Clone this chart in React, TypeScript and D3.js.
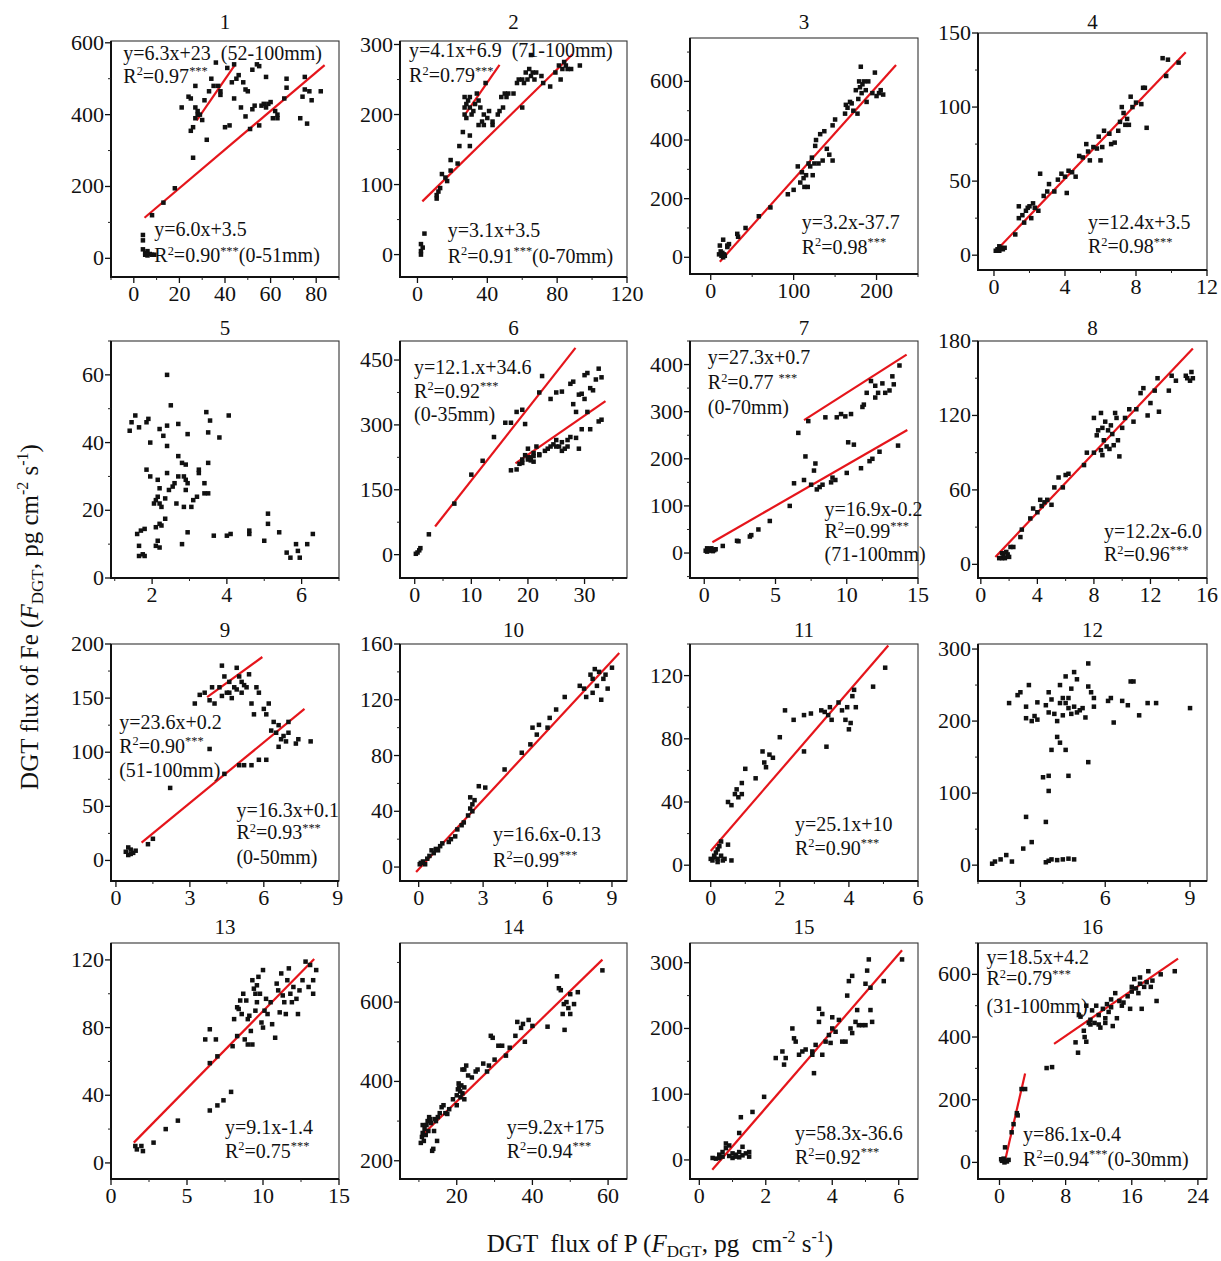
import React from 'react';
import * as d3 from 'd3';

type Pt = [number, number];
type Fit = [number, number, number, number];

// ---- data (Fe flux vs P flux per core) ----
const panelTitles = ['1', '2', '3', '4', '5', '6', '7', '8', '9', '10', '11', '12', '13', '14', '15', '16'];

const p1Points: Pt[] = [
  [4, 65], [4, 50], [4, 25], [5, 15], [6, 20], [7, 12], [8, 10], [6, 8], [5, 10], [9, 10],
  [8, 120], [13, 155], [18, 195],
  [21, 420], [24, 450], [25, 445], [25, 355], [26, 365], [26, 280], [27, 480], [27, 390], [27, 420], [28, 410],
  [28, 400], [29, 400], [30, 385], [31, 440], [32, 330], [33, 465], [34, 500], [35, 480], [36, 545], [37, 480],
  [38, 465], [38, 455], [40, 365], [41, 530], [42, 370], [43, 490], [44, 445], [44, 540], [45, 500], [46, 510],
  [47, 420], [48, 490], [49, 395], [49, 470], [50, 465], [51, 360], [52, 525], [52, 415], [53, 425], [54, 540],
  [55, 535], [55, 370], [56, 425], [57, 430], [58, 505], [58, 420], [59, 430], [60, 435], [61, 390], [62, 410],
  [63, 390], [67, 500], [67, 475], [73, 390], [74, 450], [75, 470], [75, 505], [76, 375], [77, 465], [78, 440],
  [82, 465], [66, 445], [63, 400],
];
const p1Fits: Fit[] = [[4.7, 113, 83.7, 538], [27.6, 384, 44.3, 538]];

const p2Points: Pt[] = [
  [2, 15], [2, 5], [2, 0], [3, 10], [4, 30],
  [11, 80], [11, 85], [12, 90], [13, 95], [14, 115], [16, 110], [17, 105], [19, 135], [19, 120], [23, 130],
  [24, 155], [26, 175], [27, 225], [27, 210], [27, 200], [28, 215], [28, 195], [29, 220], [30, 225], [30, 210],
  [30, 170], [30, 155], [31, 200], [32, 205], [33, 215], [34, 230], [35, 220], [35, 185], [36, 210], [37, 190],
  [38, 200], [38, 185], [39, 245], [40, 195], [41, 205], [43, 190], [43, 185], [46, 200], [47, 205], [48, 225],
  [49, 210], [50, 230], [51, 225], [52, 230], [55, 230], [57, 245], [58, 250], [60, 250], [60, 210], [61, 245],
  [62, 260], [63, 250], [64, 265], [65, 255], [65, 285], [66, 260], [67, 250], [68, 260], [71, 255], [72, 245],
  [76, 240], [79, 260], [81, 270], [82, 250], [83, 265], [84, 275], [85, 270], [86, 265], [88, 265], [93, 270],
];
const p2Fits: Fit[] = [[2.8, 76, 88.8, 286], [27.8, 202, 47, 271]];

const p3Points: Pt[] = [
  [10, 10], [11, 40], [12, 20], [13, 5], [14, 15], [15, 60], [15, 0], [16, 10], [17, 5], [20, 40], [20, 35],
  [22, 45], [32, 80], [33, 70], [42, 100], [58, 140], [72, 170], [93, 215], [100, 230], [105, 310], [108, 255],
  [110, 290], [112, 270], [113, 240], [115, 280], [117, 240], [118, 320], [120, 310], [122, 340], [123, 280],
  [125, 320], [126, 380], [127, 400], [130, 320], [132, 420], [135, 330], [137, 430], [140, 370], [143, 350],
  [147, 330], [147, 450], [150, 470], [162, 490], [163, 520], [165, 510], [168, 530], [170, 525], [172, 500],
  [175, 570], [177, 490], [178, 540], [179, 600], [180, 580], [181, 650], [182, 560], [183, 590], [185, 600],
  [187, 570], [188, 530], [190, 600], [195, 560], [198, 630], [200, 550], [203, 560], [205, 570], [208, 555],
];
const p3Fits: Fit[] = [[11, -15, 223.5, 656]];

const p4Points: Pt[] = [
  [0.1, 3], [0.2, 4], [0.3, 3], [0.4, 5], [0.5, 4], [0.6, 5], [0.3, 6], [1.2, 14], [1.4, 25], [1.4, 33],
  [1.6, 27], [1.7, 22], [1.8, 30], [1.9, 32], [2.0, 33], [2.1, 25], [2.2, 35], [2.3, 32], [2.5, 30], [2.6, 55],
  [2.8, 40], [3.0, 43], [3.1, 48], [3.4, 43], [3.6, 51], [3.8, 55], [4.0, 53], [4.1, 42], [4.2, 57], [4.4, 56],
  [4.6, 53], [4.8, 67], [5.0, 66], [5.2, 75], [5.3, 70], [5.4, 64], [5.6, 73], [5.8, 72], [5.9, 80], [6.0, 64],
  [6.1, 73], [6.2, 84], [6.5, 82], [6.6, 75], [6.8, 76], [7.0, 84], [7.1, 90], [7.2, 100], [7.3, 96], [7.4, 88],
  [7.5, 92], [7.6, 88], [7.7, 107], [7.8, 100], [8.0, 103], [8.3, 102], [8.4, 113], [8.5, 113], [8.6, 86],
  [9.5, 133], [9.7, 121], [9.8, 132], [10.4, 130],
];
const p4Fits: Fit[] = [[0.06, 2.3, 10.8, 137]];

const p5Points: Pt[] = [
  [1.4, 43.5], [1.45, 46], [1.55, 48], [1.65, 44.5], [1.85, 46], [1.9, 47], [1.95, 40], [2.4, 60], [2.5, 51],
  [2.4, 45], [2.3, 42], [2.2, 44], [2.7, 45.5], [2.95, 42.5], [2.4, 39], [3.45, 49], [3.55, 46.5], [4.05, 48],
  [3.8, 41.5], [3.5, 43], [3.5, 34], [2.7, 36], [2.8, 34], [2.9, 33.5], [1.85, 32], [1.95, 30], [2.15, 29],
  [2.4, 31], [2.6, 28], [2.7, 30], [2.85, 30], [2.9, 29], [2.95, 28], [3.25, 32], [3.25, 31], [3.4, 28],
  [2.2, 26.5], [2.45, 26], [2.55, 27], [2.9, 26], [2.05, 22], [2.1, 23], [2.15, 24], [2.2, 22], [2.25, 21],
  [2.35, 23.5], [2.65, 22], [2.85, 21], [3.05, 21], [3.1, 23], [3.2, 24], [3.4, 25], [3.5, 25], [2.2, 16],
  [2.25, 15.5], [2.35, 17.5], [2.1, 15], [1.6, 13], [1.7, 14], [1.8, 14.5], [2.95, 13.5], [2.15, 11], [2.1, 9.5],
  [2.2, 9], [2.8, 10], [1.65, 9.5], [1.65, 6.5], [1.75, 7], [1.8, 6.5], [3.65, 12.5], [4.0, 12.5], [4.1, 13],
  [4.6, 13], [4.6, 14], [5.0, 11], [5.1, 19], [5.1, 16], [5.4, 13.5], [5.6, 7.5], [5.7, 6], [5.85, 10], [5.9, 8],
  [5.95, 6], [6.15, 10], [6.3, 13],
];
const p5Fits: Fit[] = [];

const p6Points: Pt[] = [
  [0.2, 2], [0.5, 5], [0.8, 10], [1, 15], [2.5, 47], [7, 118], [10, 185], [12, 217], [14, 272], [16, 305],
  [17, 305], [18, 330], [19, 335], [19.5, 302], [17, 195], [18, 197], [18.5, 210], [19, 220], [19.5, 230],
  [20, 245], [20, 220], [20.5, 225], [21, 235], [21, 215], [21.5, 250], [22, 230], [22, 375], [22.5, 413],
  [23.5, 245], [24, 360], [24.5, 255], [25, 265], [25, 375], [25.5, 250], [26, 260], [26, 377], [26.5, 245],
  [27, 265], [27.5, 395], [27.5, 272], [28, 400], [28, 348], [28.5, 270], [28.5, 330], [29, 245], [29, 370],
  [29.5, 290], [29.5, 372], [30, 360], [30, 415], [30.5, 330], [30.5, 420], [31, 290], [31, 385], [31.5, 380],
  [32, 405], [32.5, 308], [32.5, 430], [33, 410], [33, 312], [23, 240], [24, 250], [25, 250], [26, 240],
  [27, 250], [20, 225], [21, 228], [22, 232], [19, 212], [20.5, 218],
];
const p6Fits: Fit[] = [[3.6, 65, 28.4, 478], [17.8, 211, 33.7, 355]];

const p7Points: Pt[] = [
  [0.1, 5], [0.2, 3], [0.3, 8], [0.4, 5], [0.5, 7], [0.6, 4], [0.7, 6], [0.8, 8], [0.2, 10], [0.5, 10],
  [1.3, 15], [2.3, 26], [2.4, 25], [3.2, 35], [3.3, 38], [3.8, 50], [4.6, 68], [6.0, 100], [6.3, 148],
  [6.6, 255], [7.0, 155], [7.1, 205], [7.3, 280], [7.5, 145], [7.7, 175], [7.8, 190], [7.9, 135], [8.1, 140],
  [8.3, 145], [8.5, 288], [8.9, 150], [9.0, 160], [9.2, 155], [9.3, 288], [9.6, 295], [9.9, 290], [10.0, 170],
  [10.3, 295], [10.1, 235], [10.5, 230], [11.0, 180], [11.1, 310], [11.2, 315], [11.4, 340], [11.6, 195],
  [11.7, 365], [11.8, 200], [12.0, 355], [12.0, 330], [12.2, 340], [12.3, 215], [12.5, 360], [12.7, 340],
  [13.0, 345], [13.2, 375], [13.3, 358], [13.6, 228], [13.7, 398],
];
const p7Fits: Fit[] = [[7.0, 282, 14.2, 421], [0.57, 23, 14.25, 261]];

const p8Points: Pt[] = [
  [1.3, 5], [1.5, 5], [1.6, 7], [1.7, 5], [1.8, 10], [1.9, 8], [2.0, 6], [2.1, 14], [2.3, 14], [1.5, 9],
  [2.8, 22], [2.9, 28], [3.5, 37], [3.7, 45], [4.0, 42], [4.2, 52], [4.3, 47], [4.5, 50], [4.7, 52], [5.0, 48],
  [5.2, 62], [5.5, 70], [5.8, 62], [6.0, 72], [6.2, 73], [7.3, 80], [7.5, 90], [8.0, 118], [8.0, 90], [8.3, 108],
  [8.5, 92], [8.5, 122], [8.6, 110], [8.7, 100], [8.8, 115], [8.9, 95], [9.0, 108], [9.2, 112], [9.3, 105],
  [9.5, 122], [9.6, 118], [9.7, 100], [9.8, 87], [10.0, 110], [10.2, 118], [10.5, 125], [10.8, 115], [11.0, 125],
  [11.3, 138], [11.5, 142], [11.8, 120], [12.0, 130], [12.3, 140], [12.5, 150], [12.6, 123], [13.3, 140],
  [13.5, 152], [13.8, 148], [14.5, 152], [14.6, 150], [14.8, 148], [14.9, 155], [15.0, 150], [8.2, 104],
  [8.6, 88], [9.1, 93], [9.4, 96],
];
const p8Fits: Fit[] = [[1.03, 6, 15.0, 174]];

const p9Points: Pt[] = [
  [0.4, 8], [0.5, 12], [0.5, 5], [0.6, 10], [0.7, 7], [0.8, 9], [0.6, 6], [1.3, 15], [1.5, 20], [2.2, 67],
  [3.2, 145], [3.4, 153], [3.6, 155], [3.8, 103], [3.8, 148], [3.9, 160], [4.0, 145], [4.2, 160], [4.3, 152],
  [4.3, 180], [4.4, 170], [4.5, 155], [4.6, 165], [4.7, 150], [4.8, 160], [4.9, 178], [5.0, 170], [5.1, 165],
  [5.1, 155], [5.3, 160], [5.4, 172], [5.5, 145], [5.6, 135], [5.7, 160], [5.8, 155], [6.0, 140], [6.1, 135],
  [6.2, 145], [6.3, 120], [6.4, 128], [6.5, 118], [6.6, 125], [6.6, 105], [6.7, 112], [6.8, 115], [6.9, 110],
  [7.0, 118], [7.0, 128], [7.3, 108], [7.4, 112], [7.9, 110], [5.0, 88], [5.2, 88], [5.5, 88], [5.8, 93],
  [6.1, 93], [4.4, 80], [4.6, 155], [4.9, 158], [5.2, 162],
];
const p9Fits: Fit[] = [[3.7, 151, 5.94, 188], [1.04, 16.5, 7.65, 140]];

const p10Points: Pt[] = [
  [0.05, 2], [0.1, 3], [0.2, 4], [0.3, 2], [0.4, 6], [0.5, 8], [0.6, 12], [0.7, 10], [0.8, 13], [0.9, 12],
  [1.0, 15], [1.1, 17], [1.4, 18], [1.5, 20], [1.7, 22], [1.8, 27], [2.0, 30], [2.1, 32], [2.3, 37], [2.4, 42],
  [2.4, 50], [2.5, 45], [2.5, 40], [2.6, 48], [2.8, 58], [3.1, 57], [4.0, 70], [4.8, 82], [5.2, 88], [5.3, 100],
  [5.5, 95], [5.6, 102], [6.0, 100], [6.1, 107], [6.4, 113], [6.8, 122], [7.5, 130], [7.7, 128], [7.8, 122],
  [8.0, 138], [8.1, 135], [8.1, 125], [8.2, 142], [8.3, 130], [8.4, 140], [8.5, 120], [8.6, 135], [8.7, 138],
  [8.8, 128], [9.0, 143],
];
const p10Fits: Fit[] = [[-0.12, -3.6, 9.34, 153.6]];

const p11Points: Pt[] = [
  [0.0, 4], [0.05, 3], [0.1, 5], [0.15, 8], [0.2, 4], [0.2, 10], [0.25, 12], [0.3, 6], [0.3, 15], [0.35, 3],
  [0.4, 4], [0.5, 13], [0.6, 3], [0.1, 6], [0.2, 2],
  [0.5, 40], [0.6, 38], [0.7, 45], [0.75, 48], [0.8, 43], [0.9, 52], [0.9, 45], [1.0, 61], [1.3, 55], [1.5, 72],
  [1.55, 65], [1.6, 62], [1.7, 70], [1.8, 68], [2.0, 81], [2.15, 98], [2.4, 92], [2.7, 95], [2.7, 72], [2.9, 96],
  [3.2, 98], [3.3, 97], [3.35, 75], [3.4, 95], [3.45, 100], [3.5, 92], [3.7, 103], [3.8, 98], [3.9, 92],
  [3.95, 100], [4.0, 86], [4.05, 90], [4.1, 107], [4.15, 111], [4.2, 100], [4.7, 113], [5.05, 125],
];
const p11Fits: Fit[] = [[0, 9, 5.14, 139]];

const p12Points: Pt[] = [
  [2.0, 2], [2.1, 5], [2.3, 8], [2.5, 14], [2.7, 5], [3.1, 23], [3.2, 67], [3.4, 32], [3.9, 4], [4.0, 6],
  [4.1, 8], [4.3, 7], [4.5, 8], [4.7, 9], [4.9, 8], [3.9, 60], [3.8, 122], [4.0, 124], [4.0, 103], [4.1, 160],
  [4.3, 178], [4.4, 170], [4.6, 160], [4.7, 124], [5.4, 143],
  [2.6, 225], [2.9, 236], [3.0, 240], [3.2, 220], [3.2, 204], [3.3, 250], [3.4, 200], [3.5, 207], [3.6, 226],
  [3.6, 202], [3.9, 222], [4.0, 212], [4.0, 240], [4.1, 230], [4.2, 210], [4.3, 200], [4.4, 225], [4.4, 250],
  [4.5, 232], [4.5, 208], [4.6, 262], [4.6, 225], [4.7, 232], [4.7, 218], [4.8, 245], [4.8, 210], [4.9, 268],
  [4.9, 220], [5.0, 212], [5.0, 258], [5.1, 215], [5.2, 218], [5.3, 205], [5.4, 280], [5.4, 248], [5.5, 240],
  [5.6, 232], [5.6, 220], [6.1, 228], [6.2, 232], [6.3, 198], [6.6, 228], [6.8, 222], [6.9, 255], [7.0, 255],
  [7.2, 208], [7.5, 225], [7.8, 225], [9.0, 218],
];
const p12Fits: Fit[] = [];

const p13Points: Pt[] = [
  [1.6, 10], [1.7, 8], [2.0, 10], [2.1, 7], [2.8, 12], [3.6, 20], [4.4, 25], [6.2, 73], [6.5, 79], [6.5, 59],
  [6.5, 31], [6.9, 73], [7.0, 63], [7.0, 34], [7.4, 37], [7.9, 42], [8.0, 69], [8.1, 85], [8.3, 75], [8.3, 92],
  [8.5, 96], [8.6, 88], [8.7, 100], [8.8, 73], [8.9, 96], [9.0, 70], [9.1, 87], [9.2, 78], [9.3, 108], [9.3, 70],
  [9.4, 103], [9.5, 100], [9.6, 105], [9.6, 95], [9.7, 110], [9.8, 100], [9.9, 83], [10.0, 114], [10.0, 80],
  [10.1, 90], [10.3, 88], [10.5, 95], [10.6, 82], [10.8, 74], [10.9, 106], [11.0, 102], [11.1, 89], [11.2, 112],
  [11.3, 99], [11.4, 95], [11.5, 88], [11.6, 108], [11.7, 115], [11.8, 100], [12.0, 104], [12.2, 97], [12.3, 88],
  [12.4, 102], [12.6, 108], [12.8, 119], [13.0, 104], [13.1, 117], [13.3, 108], [13.3, 100], [13.5, 114],
  [9.0, 85], [9.5, 90], [10.2, 97], [11.9, 95], [8.4, 91],
];
const p13Fits: Fit[] = [[1.5, 12, 13.37, 120.5]];

const p14Points: Pt[] = [
  [10.5, 245], [10.8, 260], [11, 290], [11, 270], [11.3, 250], [11.5, 280], [11.8, 265], [12, 290], [12.3, 300],
  [12.5, 275], [12.7, 310], [13, 305], [13.2, 295], [13.5, 225], [13.8, 230], [14, 275], [14.2, 305], [14.5, 300],
  [14.8, 250], [15, 310], [15.5, 320], [16, 335], [16.5, 340], [17, 320], [17.5, 318], [18, 330], [19, 355],
  [20, 340], [20, 365], [20.3, 380], [20.6, 385], [20.9, 375], [21.2, 390], [21.5, 370], [21.5, 430], [22, 355],
  [22, 430], [22.5, 440], [23, 415], [24, 410], [25, 425], [25.5, 430], [27, 445], [28, 425], [28.5, 440],
  [29, 515], [29.5, 510], [30, 455], [31, 490], [32, 490], [33, 465], [34, 485], [35.5, 515], [36, 550], [37, 535],
  [37.5, 545], [38, 500], [39, 555], [40, 540], [44, 538], [46.5, 665], [47, 635], [47.5, 630], [48, 570],
  [48.3, 595], [48.5, 530], [49, 600], [49.5, 585], [50, 620], [50, 570], [51, 595], [52, 625], [58.5, 680],
  [21, 360], [22, 385], [20.5, 395],
];
const p14Fits: Fit[] = [[10.7, 263, 58.5, 707]];

const p15Points: Pt[] = [
  [0.4, 3], [0.5, 2], [0.6, 8], [0.7, 5], [0.7, 12], [0.8, 18], [0.8, 25], [0.9, 22], [0.9, 6], [1.0, 10],
  [1.0, 3], [1.1, 8], [1.2, 4], [1.2, 12], [1.3, 7], [1.3, 20], [1.4, 10], [1.5, 5], [1.5, 12], [1.1, 5], [0.6, 3],
  [1.2, 41], [1.25, 65], [1.6, 73], [1.95, 96], [2.3, 155], [2.5, 165], [2.55, 145], [2.6, 155], [2.8, 200],
  [2.85, 185], [2.9, 180], [3.0, 160], [3.1, 165], [3.2, 168], [3.4, 160], [3.4, 165], [3.45, 132], [3.5, 175],
  [3.6, 210], [3.6, 230], [3.7, 222], [3.7, 160], [3.8, 180], [3.9, 190], [3.95, 178], [4.0, 200], [4.0, 217],
  [4.1, 195], [4.2, 213], [4.3, 180], [4.4, 180], [4.45, 250], [4.5, 272], [4.55, 200], [4.6, 280], [4.6, 193],
  [4.7, 210], [4.75, 228], [4.8, 205], [4.9, 205], [5.0, 268], [5.0, 205], [5.05, 288], [5.1, 305], [5.15, 228],
  [5.15, 262], [5.2, 210], [5.55, 272], [6.1, 305],
];
const p15Fits: Fit[] = [[0.39, -15, 6.1, 319]];

const p16Points: Pt[] = [
  [0.2, 10], [0.3, 5], [0.5, 12], [0.6, 0], [0.8, 5], [0.9, 3], [1.1, 8], [0.67, 48], [1.47, 96], [1.7, 122],
  [2.1, 157], [2.2, 150], [2.67, 234], [3.1, 234], [5.7, 301], [6.36, 304],
  [9.2, 383], [9.5, 350], [9.6, 470], [9.8, 465], [10.2, 420], [10.3, 400], [10.5, 385], [10.5, 500], [10.8, 445],
  [11, 455], [11.2, 485], [11.5, 445], [11.7, 500], [12, 440], [12.2, 430], [12.5, 490], [12.8, 445], [13, 505],
  [13.2, 480], [13.5, 520], [13.7, 435], [14, 540], [14.2, 460], [14.5, 515], [15, 510], [15.5, 530], [15.8, 490],
  [16, 545], [16.3, 585], [16.5, 555], [16.8, 540], [17, 590], [17.2, 490], [17.5, 560], [17.8, 575], [18, 610],
  [18.3, 560], [18.5, 580], [19, 515], [19.5, 600], [21.2, 610], [12, 470], [13.5, 495], [14.8, 500], [16, 560],
  [17, 570], [11, 440], [12.8, 460],
];
const p16Fits: Fit[] = [[0.67, 5, 3.1, 284], [6.6, 378, 21.6, 650]];

// tick values
const p1XTicks = [0, 20, 40, 60, 80];
const p1YTicks = [0, 200, 400, 600];
const p2XTicks = [0, 40, 80, 120];
const p2YTicks = [0, 100, 200, 300];
const p3XTicks = [0, 100, 200];
const p3YTicks = [0, 200, 400, 600];
const p4XTicks = [0, 4, 8, 12];
const p4YTicks = [0, 50, 100, 150];
const p5XTicks = [2, 4, 6];
const p5YTicks = [0, 20, 40, 60];
const p6XTicks = [0, 10, 20, 30];
const p6YTicks = [0, 150, 300, 450];
const p7XTicks = [0, 5, 10, 15];
const p7YTicks = [0, 100, 200, 300, 400];
const p8XTicks = [0, 4, 8, 12, 16];
const p8YTicks = [0, 60, 120, 180];
const p9XTicks = [0, 3, 6, 9];
const p9YTicks = [0, 50, 100, 150, 200];
const p10XTicks = [0, 3, 6, 9];
const p10YTicks = [0, 40, 80, 120, 160];
const p11XTicks = [0, 2, 4, 6];
const p11YTicks = [0, 40, 80, 120];
const p12XTicks = [3, 6, 9];
const p12YTicks = [0, 100, 200, 300];
const p13XTicks = [0, 5, 10, 15];
const p13YTicks = [0, 40, 80, 120];
const p14XTicks = [20, 40, 60];
const p14YTicks = [200, 400, 600];
const p15XTicks = [0, 2, 4, 6];
const p15YTicks = [0, 100, 200, 300];
const p16XTicks = [0, 8, 16, 24];
const p16YTicks = [0, 200, 400, 600];

// regression annotations ({..} = superscript)
const p1Labels = ['y=6.3x+23  (52-100mm)', 'R{2}=0.97{***}', 'y=6.0x+3.5', 'R{2}=0.90{***}(0-51mm)'];
const p2Labels = ['y=4.1x+6.9  (71-100mm)', 'R{2}=0.79{***}', 'y=3.1x+3.5', 'R{2}=0.91{***}(0-70mm)'];
const p3Labels = ['y=3.2x-37.7', 'R{2}=0.98{***}'];
const p4Labels = ['y=12.4x+3.5', 'R{2}=0.98{***}'];
const p5Labels: string[] = [];
const p6Labels = ['y=12.1.x+34.6', 'R{2}=0.92{***}', '(0-35mm)'];
const p7Labels = ['y=27.3x+0.7', 'R{2}=0.77 {***}', '(0-70mm)', 'y=16.9x-0.2', 'R{2}=0.99{***}', '(71-100mm)'];
const p8Labels = ['y=12.2x-6.0', 'R{2}=0.96{***}'];
const p9Labels = ['y=23.6x+0.2', 'R{2}=0.90{***}', '(51-100mm)', 'y=16.3x+0.1', 'R{2}=0.93{***}', '(0-50mm)'];
const p10Labels = ['y=16.6x-0.13', 'R{2}=0.99{***}'];
const p11Labels = ['y=25.1x+10', 'R{2}=0.90{***}'];
const p12Labels: string[] = [];
const p13Labels = ['y=9.1x-1.4', 'R{2}=0.75{***}'];
const p14Labels = ['y=9.2x+175', 'R{2}=0.94{***}'];
const p15Labels = ['y=58.3x-36.6', 'R{2}=0.92{***}'];
const p16Labels = ['y=18.5x+4.2', 'R{2}=0.79{***}', '(31-100mm)', 'y=86.1x-0.4', 'R{2}=0.94{***}(0-30mm)'];

// ---- layout ----
const W = 1221;
const H = 1261;
const colX: [number, number][] = [[111, 339], [400, 627], [690, 918], [978, 1207]];
const rowY: [number, number][] = [[41, 277], [341, 578], [644, 881], [943, 1179]];
const rowTitleY = [29, 335, 637, 934];
// the top-right panels of the scan sit a little higher
const frameOverride: Record<number, [number, number]> = { 2: [38, 274], 3: [33, 270] };
const FONT = '"Liberation Serif", "Times New Roman", serif';
const RED = '#e5151b';

const panels = [
  { pts: p1Points, fits: p1Fits, xd: [-10, 90], yd: [-52, 605], xt: p1XTicks, yt: p1YTicks, labels: p1Labels,
    pos: [[0.054, 0.05], [0.054, 0.148], [0.19, 0.796], [0.19, 0.908]] },
  { pts: p2Points, fits: p2Fits, xd: [-10, 120], yd: [-32, 305], xt: p2XTicks, yt: p2YTicks, labels: p2Labels,
    pos: [[0.04, 0.04], [0.04, 0.146], [0.21, 0.8], [0.21, 0.91]] },
  { pts: p3Points, fits: p3Fits, xd: [-25, 250], yd: [-57, 748], xt: p3XTicks, yt: p3YTicks, labels: p3Labels,
    pos: [[0.49, 0.78], [0.49, 0.885]] },
  { pts: p4Points, fits: p4Fits, xd: [-0.9, 12], yd: [-10, 150], xt: p4XTicks, yt: p4YTicks, labels: p4Labels,
    pos: [[0.48, 0.797], [0.48, 0.9]] },
  { pts: p5Points, fits: p5Fits, xd: [0.9, 7], yd: [0, 70], xt: p5XTicks, yt: p5YTicks, labels: p5Labels, pos: [] },
  { pts: p6Points, fits: p6Fits, xd: [-2.6, 37.5], yd: [-54, 494], xt: p6XTicks, yt: p6YTicks, labels: p6Labels,
    pos: [[0.062, 0.108], [0.062, 0.21], [0.062, 0.31]] },
  { pts: p7Points, fits: p7Fits, xd: [-1, 15], yd: [-53, 450], xt: p7XTicks, yt: p7YTicks, labels: p7Labels,
    pos: [[0.078, 0.068], [0.078, 0.174], [0.078, 0.28], [0.59, 0.71], [0.59, 0.8], [0.59, 0.9]] },
  { pts: p8Points, fits: p8Fits, xd: [-0.2, 16], yd: [-11, 180], xt: p8XTicks, yt: p8YTicks, labels: p8Labels,
    pos: [[0.55, 0.8], [0.55, 0.9]] },
  { pts: p9Points, fits: p9Fits, xd: [-0.2, 9.05], yd: [-19, 200], xt: p9XTicks, yt: p9YTicks, labels: p9Labels,
    pos: [[0.036, 0.33], [0.036, 0.43], [0.036, 0.53], [0.55, 0.7], [0.55, 0.795], [0.55, 0.9]] },
  { pts: p10Points, fits: p10Fits, xd: [-0.87, 9.7], yd: [-10, 160], xt: p10XTicks, yt: p10YTicks, labels: p10Labels,
    pos: [[0.41, 0.8], [0.41, 0.91]] },
  { pts: p11Points, fits: p11Fits, xd: [-0.6, 6], yd: [-10, 140], xt: p11XTicks, yt: p11YTicks, labels: p11Labels,
    pos: [[0.46, 0.76], [0.46, 0.86]] },
  { pts: p12Points, fits: p12Fits, xd: [1.5, 9.6], yd: [-22, 307], xt: p12XTicks, yt: p12YTicks, labels: p12Labels, pos: [] },
  { pts: p13Points, fits: p13Fits, xd: [0, 15], yd: [-9.5, 130], xt: p13XTicks, yt: p13YTicks, labels: p13Labels,
    pos: [[0.5, 0.78], [0.5, 0.88]] },
  { pts: p14Points, fits: p14Fits, xd: [5, 65], yd: [154, 749], xt: p14XTicks, yt: p14YTicks, labels: p14Labels,
    pos: [[0.47, 0.78], [0.47, 0.88]] },
  { pts: p15Points, fits: p15Fits, xd: [-0.28, 6.58], yd: [-29, 330], xt: p15XTicks, yt: p15YTicks, labels: p15Labels,
    pos: [[0.46, 0.805], [0.46, 0.905]] },
  { pts: p16Points, fits: p16Fits, xd: [-2.6, 25.1], yd: [-53, 700], xt: p16XTicks, yt: p16YTicks, labels: p16Labels,
    pos: [[0.037, 0.06], [0.037, 0.15], [0.037, 0.265], [0.197, 0.81], [0.197, 0.915]] },
];

function minorTicks(ticks: number[], dom: number[]) {
  const s = ticks[1] - ticks[0];
  let v = ticks[0] - s / 2;
  while (v - s >= dom[0] - 1e-9) v -= s;
  const out: number[] = [];
  for (; v <= dom[1] + 1e-9; v += s) if (v >= dom[0] - 1e-9) out.push(v);
  return out;
}

function RichText({ x, y, s, size }: { x: number; y: number; s: string; size: number }) {
  const segs: { t: string; sup: boolean }[] = [];
  s.split(/(\{[^}]*\})/).forEach(p => {
    if (!p) return;
    if (p.startsWith('{')) segs.push({ t: p.slice(1, -1), sup: true });
    else segs.push({ t: p, sup: false });
  });
  const up = size * 0.38;
  let shifted = false;
  return (
    <text x={x} y={y} fontSize={size} fontFamily={FONT} fill="#111" style={{ whiteSpace: 'pre' }}>
      {segs.map((g, i) => {
        let dy = 0;
        if (g.sup && !shifted) { dy = -up; shifted = true; }
        else if (!g.sup && shifted) { dy = up; shifted = false; }
        return (
          <tspan key={i} dy={dy} fontSize={g.sup ? size * 0.62 : size}>{g.t}</tspan>
        );
      })}
    </text>
  );
}

function Panel({ cfg, i, title }: { cfg: any; i: number; title: string }) {
  const [x0, x1] = colX[i % 4];
  const row = Math.floor(i / 4);
  const [y0, y1] = frameOverride[i] || rowY[row];
  const x = d3.scaleLinear().domain(cfg.xd).range([x0, x1]);
  const y = d3.scaleLinear().domain(cfg.yd).range([y1, y0]);
  const xMinor = minorTicks(cfg.xt, cfg.xd);
  const yMinor = minorTicks(cfg.yt, cfg.yd);
  const w = x1 - x0;
  const h = y1 - y0;
  return (
    <g>
      <text x={(x0 + x1) / 2} y={rowTitleY[row]} textAnchor="middle" fontSize={21} fontFamily={FONT} fill="#111">{title}</text>
      <rect x={x0} y={y0} width={w} height={h} fill="none" stroke="#333" strokeWidth={1.1} />
      {cfg.fits.map((f: Fit, k: number) => (
        <line key={'f' + k} x1={x(f[0])} y1={y(f[1])} x2={x(f[2])} y2={y(f[3])} stroke={RED} strokeWidth={2.2} />
      ))}
      {cfg.pts.map((p: Pt, k: number) => (
        <rect key={'p' + k} x={x(p[0]) - 2.25} y={y(p[1]) - 2.25} width={4.5} height={4.5} fill="#111" />
      ))}
      <line x1={x0} y1={y0} x2={x0} y2={y1 + 1} stroke="#111" strokeWidth={2} />
      <line x1={x0 - 1} y1={y1} x2={x1} y2={y1} stroke="#111" strokeWidth={2} />
      {yMinor.map((v, k) => <line key={'ym' + k} x1={x0 - 3} x2={x0} y1={y(v)} y2={y(v)} stroke="#222" strokeWidth={1} />)}
      {xMinor.map((v, k) => <line key={'xm' + k} x1={x(v)} x2={x(v)} y1={y1} y2={y1 + 3} stroke="#222" strokeWidth={1} />)}
      {cfg.yt.map((v: number, k: number) => (
        <g key={'yt' + k}>
          <line x1={x0 - 6} x2={x0} y1={y(v)} y2={y(v)} stroke="#111" strokeWidth={1.3} />
          <text x={x0 - 7} y={y(v) + 7} textAnchor="end" fontSize={22} fontFamily={FONT} fill="#111">{v}</text>
        </g>
      ))}
      {cfg.xt.map((v: number, k: number) => (
        <g key={'xt' + k}>
          <line x1={x(v)} x2={x(v)} y1={y1} y2={y1 + 6} stroke="#111" strokeWidth={1.3} />
          <text x={x(v)} y={y1 + 24} textAnchor="middle" fontSize={22} fontFamily={FONT} fill="#111">{v}</text>
        </g>
      ))}
      {cfg.labels.map((s: string, k: number) => (
        <RichText key={'l' + k} x={x0 + cfg.pos[k][0] * w} y={y0 + cfg.pos[k][1] * h + 7} s={s} size={20} />
      ))}
    </g>
  );
}

export default function App() {
  return (
    <svg width={W} height={H} style={{ position: 'absolute', left: 0, top: 0, background: '#fff' }}>
      <rect width={W} height={H} fill="#fff" />
      {panels.map((cfg, i) => <Panel key={i} cfg={cfg} i={i} title={panelTitles[i]} />)}
      <text transform="translate(38,617) rotate(-90)" textAnchor="middle" fontSize={25} fontFamily={FONT} fill="#111">
        <tspan>DGT flux of Fe (</tspan>
        <tspan fontStyle="italic">F</tspan>
        <tspan fontSize={17} dy={5}>DGT</tspan>
        <tspan dy={-5}>, pg cm</tspan>
        <tspan fontSize={16} dy={-10}>-2</tspan>
        <tspan dy={10}> s</tspan>
        <tspan fontSize={16} dy={-10}>-1</tspan>
        <tspan dy={10}>)</tspan>
      </text>
      <text x={660} y={1252} textAnchor="middle" fontSize={25} fontFamily={FONT} fill="#111" style={{ whiteSpace: 'pre' }}>
        <tspan>DGT  flux of P (</tspan>
        <tspan fontStyle="italic">F</tspan>
        <tspan fontSize={17} dy={5}>DGT</tspan>
        <tspan dy={-5}>, pg  cm</tspan>
        <tspan fontSize={16} dy={-10}>-2</tspan>
        <tspan dy={10}> s</tspan>
        <tspan fontSize={16} dy={-10}>-1</tspan>
        <tspan dy={10}>)</tspan>
      </text>
    </svg>
  );
}
